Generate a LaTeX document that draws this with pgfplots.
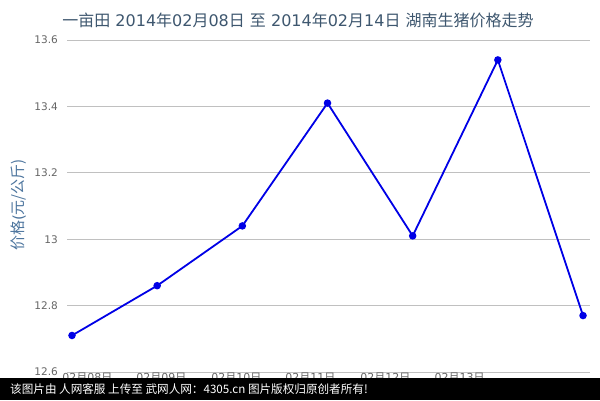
\documentclass[border=0pt]{standalone}
\usepackage{fontspec}
\setmainfont{DejaVu Sans}
\newfontfamily\cjk{Noto Sans CJK SC}
\usepackage{pgfplots}
\pgfplotsset{compat=1.18}

\definecolor{titlec}{HTML}{3E576F}
\definecolor{ylabc}{HTML}{4D759E}
\definecolor{tickc}{HTML}{666666}
\definecolor{gridc}{HTML}{C0C0C0}
\definecolor{linec}{HTML}{0000E6}

\begin{document}
\begin{tikzpicture}[x=1pt,y=1pt]
  \fill[white] (0,0) rectangle (600,400);
  \begin{axis}[
    at={(67pt,28pt)}, anchor=south west,
    scale only axis,
    width=523pt, height=332pt,
    xmin=-0.0587, xmax=6.082,
    ymin=12.6, ymax=13.6,
    ytick={12.6,12.8,13,13.2,13.4,13.6},
    yticklabels={12.6,12.8,13,13.2,13.4,13.6},
    xtick={0.18,1.05,1.93,2.80,3.68,4.55},
    xticklabels={{02{\cjk 月}08{\cjk 日}},{02{\cjk 月}09{\cjk 日}},{02{\cjk 月}10{\cjk 日}},
                 {02{\cjk 月}11{\cjk 日}},{02{\cjk 月}12{\cjk 日}},{02{\cjk 月}13{\cjk 日}}},
    axis line style={draw=none},
    major tick length=0pt,
    ymajorgrids,
    grid style={gridc, line width=0.8pt},
    yticklabel style={font=\fontsize{10.5}{12}\selectfont, text=tickc, anchor=east, inner sep=0pt, xshift=-9pt},
    xticklabel style={font=\fontsize{11}{12}\selectfont, text=tickc, anchor=north, inner sep=0pt, yshift=-1pt},
    /pgf/number format/assume math mode=true,
    clip=false,
  ]
    \addplot[linec, line width=1.8pt, mark=*, mark size=2.8pt, mark options={fill=linec, draw=linec}]
      coordinates {(0,12.71) (1,12.86) (2,13.04) (3,13.41) (4,13.01) (5,13.54) (6,12.77)};
  \end{axis}
  \node[text=titlec, font=\fontsize{16}{18}\selectfont] at (298,380)
    {{\cjk 一亩田} 2014{\cjk 年}02{\cjk 月}08{\cjk 日} {\cjk 至} 2014{\cjk 年}02{\cjk 月}14{\cjk 日} {\cjk 湖南生猪价格走势}};
  \node[text=ylabc, rotate=90, font=\fontsize{15}{17}\selectfont] at (19,195)
    {{\cjk 价格}(\cjk 元/公斤)};
  \fill[black] (0,0) rectangle (600,22);
  \node[text=white, anchor=west, font=\cjk\fontsize{11.6}{14}\selectfont, inner sep=0pt] at (10,11)
    {该图片由 人网客服 上传至 武网人网：4305.cn 图片版权归原创者所有!};
  \pgfresetboundingbox
  \useasboundingbox (0,0) rectangle (600,400);
\end{tikzpicture}
\end{document}
